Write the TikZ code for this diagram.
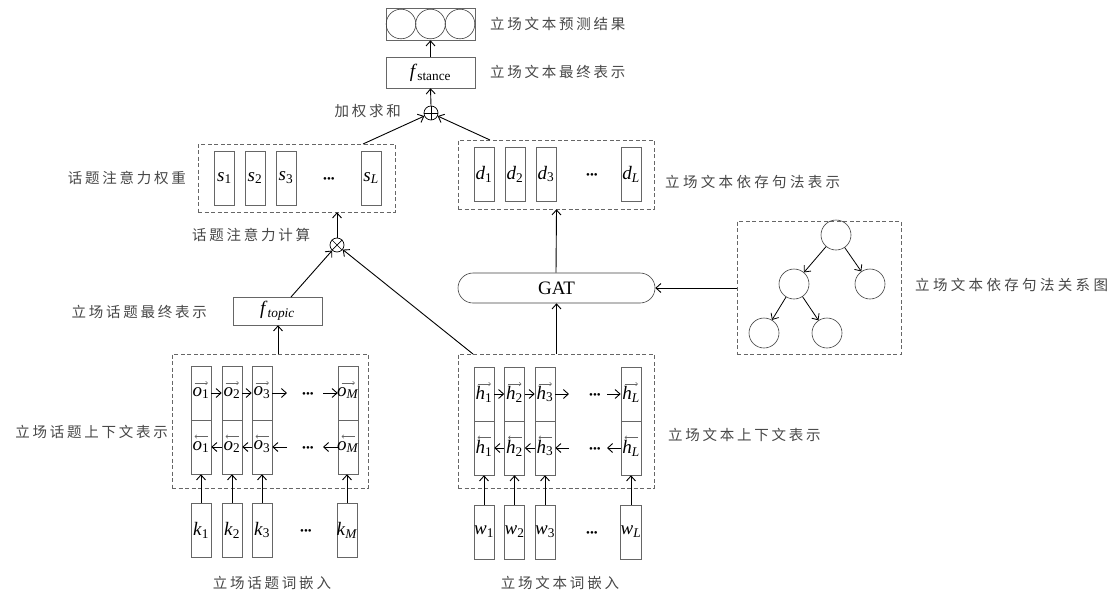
\RequirePackage{fix-cm}
\documentclass[tikz,border=0pt]{standalone}
\usepackage{fontspec}
\setmainfont{Liberation Serif}
\newfontfamily\cjk[LetterSpace=19]{Noto Sans CJK SC}
\newfontfamily\cjkw[LetterSpace=23]{Noto Sans CJK SC}
\usetikzlibrary{arrows.meta}
\newcommand\vr[2]{\textit{#1}\textsubscript{#2}}
\newcommand\cv[2]{\makebox[0pt]{\textit{#1}\textsubscript{#2}}}
\begin{document}
\begin{tikzpicture}[x=1pt,y=-1pt,
  cell/.style={draw=black!60, line width=0.6pt, minimum width=20, minimum height=54, inner sep=0pt, font=\fontsize{19}{19}\selectfont},
  fw/.style={cell, path picture={\draw[line width=0.5pt, -{Straight Barb[length=2pt,width=3.5pt]}] ([shift={(-6.5,-10)}]path picture bounding box.center) -- ++(13.5,0);}},
  bw/.style={cell, path picture={\draw[line width=0.5pt, -{Straight Barb[length=2pt,width=3.5pt]}] ([shift={(7,-10.5)}]path picture bounding box.center) -- ++(-13.5,0);}},
  dbox/.style={draw=black!60, line width=0.6pt, dash pattern=on 4pt off 2.5pt, inner sep=0pt},
  arr/.style={draw=black, line width=0.9pt, -{Straight Barb[length=5pt,width=9pt]}},
  lab/.style={font=\cjk\fontsize{14.5}{16}\selectfont, text=black!72, inner sep=0pt},
  labw/.style={font=\cjkw\fontsize{14.5}{16}\selectfont, text=black!72, inner sep=0pt},
  tnode/.style={circle, draw=black!75, line width=0.6pt, minimum size=30, inner sep=0pt},
  op/.style={circle, draw=black, line width=0.7pt, minimum size=14, inner sep=0pt},
  fbox/.style={draw=black!60, line width=0.6pt, minimum width=89, inner sep=0pt, font=\fontsize{19}{19}\selectfont},
  dots/.style={font=\fontsize{11}{11}\selectfont, inner sep=0pt}
]
\useasboundingbox (0,0) rectangle (1114,592);

% ---------- top output ----------
\node[fbox, minimum height=32] (out) at (430.5,24) {};
\node[tnode, minimum size=29.6] (c1) at (401,24) {};
\node[tnode, minimum size=29.6] (c2) at (430.5,24) {};
\node[tnode, minimum size=29.6] (c3) at (460,24) {};
\node[fbox, minimum height=31] (fst) at (430.5,72.5) {\textit{f}\textsubscript{stance}};
\node[op] (plus) at (431,113) {};
\draw[line width=0.7pt] (plus.north) -- (plus.south) (plus.west) -- (plus.east);
\draw[arr] (fst.north) -- (out.south);
\draw[arr] (plus.north) -- (fst.south);

\node[lab, anchor=west] (l1) at (490,24) {立场文本预测结果};
\node[lab, anchor=west] (l2) at (490,72) {立场文本最终表示};
\node[lab, anchor=east] (l3) at (401,111) {加权求和};

% ---------- attention weights ----------
\node[dbox, minimum width=197, minimum height=68] (sbox) at (296.5,178) {};
\node[cell] (s1) at (224.5,178) {\vr{s}{1}};
\node[cell] (s2) at (255,178) {\vr{s}{2}};
\node[cell] (s3) at (286,178) {\vr{s}{3}};
\node[dots] (sd) at (329,180) {•••};
\node[cell] (sL) at (371,178) {\vr{s}{\textit{L}}};
\node[lab, anchor=east] (l4) at (186,178) {话题注意力权重};

% ---------- dependency representation ----------
\node[dbox, minimum width=196, minimum height=69] (dbox) at (556,174.5) {};
\node[cell] (d1) at (484,174) {\vr{d}{1}};
\node[cell] (d2) at (515,174) {\vr{d}{2}};
\node[cell] (d3) at (546,174) {\vr{d}{3}};
\node[dots] (dd) at (592,176) {•••};
\node[cell] (dL) at (631,174) {\vr{d}{\textit{L}}};
\node[labw, anchor=west] (l6) at (665,182) {立场文本依存句法表示};

\coordinate (sTop) at (363,144);
\coordinate (dTop) at (490,140);
\draw[arr] (sTop) -- (plus);
\draw[arr] (dTop) -- (plus);

% ---------- attention computation ----------
\node[op] (times) at (337,245) {};
\draw[line width=0.7pt] (times.north west) -- (times.south east) (times.north east) -- (times.south west);
\draw[arr] (times.north) -- (times.north |- sbox.south);
\node[lab, anchor=west] (l5) at (192,235) {话题注意力计算};

% ---------- GAT ----------
\node[draw=black!75, line width=0.6pt, rounded corners=15, minimum width=197, minimum height=30, inner sep=0pt, font=\fontsize{19}{19}\selectfont] (gat) at (556.5,288) {GAT};
\draw[arr] (gat.north -| dbox.south) -- (dbox.south -| gat.north);

% ---------- dependency tree ----------
\node[dbox, minimum width=164, minimum height=133] (tbox) at (819,287.5) {};
\node[tnode] (r) at (836,235) {};
\node[tnode] (ta) at (794,284) {};
\node[tnode] (tb) at (870,284) {};
\node[tnode] (tc) at (764,333) {};
\node[tnode] (td) at (827,333) {};
\draw[arr, line width=0.8pt] (r) -- (ta);
\draw[arr, line width=0.8pt] (r) -- (tb);
\draw[arr, line width=0.8pt] (ta) -- (tc);
\draw[arr, line width=0.8pt] (ta) -- (td);
\draw[arr] (tbox.west |- gat.east) -- (gat.east);
\node[labw, anchor=west] (l7) at (915,285) {立场文本依存句法关系图};

% ---------- topic final ----------
\node[fbox, minimum height=28] (ftop) at (277.5,311) {\textit{f}\textsubscript{\textit{topic}}};
\coordinate (fTopR) at (291,297);
\draw[arr] (fTopR) -- (times);
\node[lab, anchor=east] (l8) at (207,312) {立场话题最终表示};

% ---------- topic BiLSTM ----------
\node[dbox, minimum width=196, minimum height=134] (obox) at (270,421) {};
\node[fw] (o1u) at (201,393) {\cv{o}{1}};
\node[fw] (o2u) at (232,393) {\cv{o}{2}};
\node[fw] (o3u) at (262,393) {\cv{o}{3}};
\node[fw] (oMu) at (348,393) {\cv{o}{\textit{M}}};
\node[bw] (o1d) at (201,447) {\cv{o}{1}};
\node[bw] (o2d) at (232,447) {\cv{o}{2}};
\node[bw] (o3d) at (262,447) {\cv{o}{3}};
\node[bw] (oMd) at (348,447) {\cv{o}{\textit{M}}};
\node[dots] (oud) at (308,395) {•••};
\node[dots] (odd) at (308,449) {•••};
\coordinate (of1) at (287,393);
\coordinate (of2) at (323,393);
\coordinate (ob1) at (287,447);
\coordinate (ob2) at (323,447);
\draw[arr] (o1u.east) -- (o2u.west);
\draw[arr] (o2u.east) -- (o3u.west);
\draw[arr] (o3u.east) -- (of1);
\draw[arr] (of2) -- (oMu.west);
\draw[arr] (o2d.west) -- (o1d.east);
\draw[arr] (o3d.west) -- (o2d.east);
\draw[arr] (ob1) -- (o3d.east);
\draw[arr] (oMd.west) -- (ob2);
\coordinate (oTop) at (278,354);
\draw[arr] (oTop) -- (oTop |- ftop.south);
\node[lab, anchor=east] (l9) at (168,432) {立场话题上下文表示};

% ---------- topic embeddings ----------
\node[cell] (k1) at (201,530) {\vr{k}{1}};
\node[cell] (k2) at (232,530) {\vr{k}{2}};
\node[cell] (k3) at (262,530) {\vr{k}{3}};
\node[dots] (kd) at (306,532) {•••};
\node[cell] (kM) at (347,530) {\cv{k}{\textit{M}}};
\draw[arr] (k1.north) -- (o1d.south);
\draw[arr] (k2.north) -- (o2d.south);
\draw[arr] (k3.north) -- (o3d.south);
\draw[arr] (kM.north) -- (kM.north |- oMd.south);
\node[lab] (l11) at (272,583) {立场话题词嵌入};

% ---------- text BiLSTM ----------
\node[dbox, minimum width=196, minimum height=134] (hbox) at (556,421) {};
\node[fw] (h1u) at (484,394) {\cv{h}{1}};
\node[fw] (h2u) at (514.5,394) {\cv{h}{2}};
\node[fw] (h3u) at (545,394) {\cv{h}{3}};
\node[fw] (hLu) at (631,394) {\cv{h}{\textit{L}}};
\node[bw] (h1d) at (484,448) {\cv{h}{1}};
\node[bw] (h2d) at (514.5,448) {\cv{h}{2}};
\node[bw] (h3d) at (545,448) {\cv{h}{3}};
\node[bw] (hLd) at (631,448) {\cv{h}{\textit{L}}};
\node[dots] (hud) at (595,396) {•••};
\node[dots] (hdd) at (595,450) {•••};
\coordinate (hf1) at (569,394);
\coordinate (hf2) at (607,394);
\coordinate (hb1) at (569,448);
\coordinate (hb2) at (607,448);
\draw[arr] (h1u.east) -- (h2u.west);
\draw[arr] (h2u.east) -- (h3u.west);
\draw[arr] (h3u.east) -- (hf1);
\draw[arr] (hf2) -- (hLu.west);
\draw[arr] (h2d.west) -- (h1d.east);
\draw[arr] (h3d.west) -- (h2d.east);
\draw[arr] (hb1) -- (h3d.east);
\draw[arr] (hLd.west) -- (hb2);
\draw[arr] (hbox.north -| gat.south) -- (gat.south);
\coordinate (hTopL) at (473,354);
\draw[arr] (hTopL) -- (times);
\node[lab, anchor=west] (l10) at (668,435) {立场文本上下文表示};

% ---------- text embeddings ----------
\node[cell] (w1) at (484,532) {\vr{w}{1}};
\node[cell] (w2) at (514.5,532) {\vr{w}{2}};
\node[cell] (w3) at (545,532) {\vr{w}{3}};
\node[dots] (wd) at (592,534) {•••};
\node[cell] (wL) at (631,532) {\vr{w}{\textit{L}}};
\draw[arr] (w1.north) -- (h1d.south);
\draw[arr] (w2.north) -- (h2d.south);
\draw[arr] (w3.north) -- (h3d.south);
\draw[arr] (wL.north) -- (hLd.south);
\node[lab] (l12) at (560,583) {立场文本词嵌入};
\end{tikzpicture}
\end{document}
